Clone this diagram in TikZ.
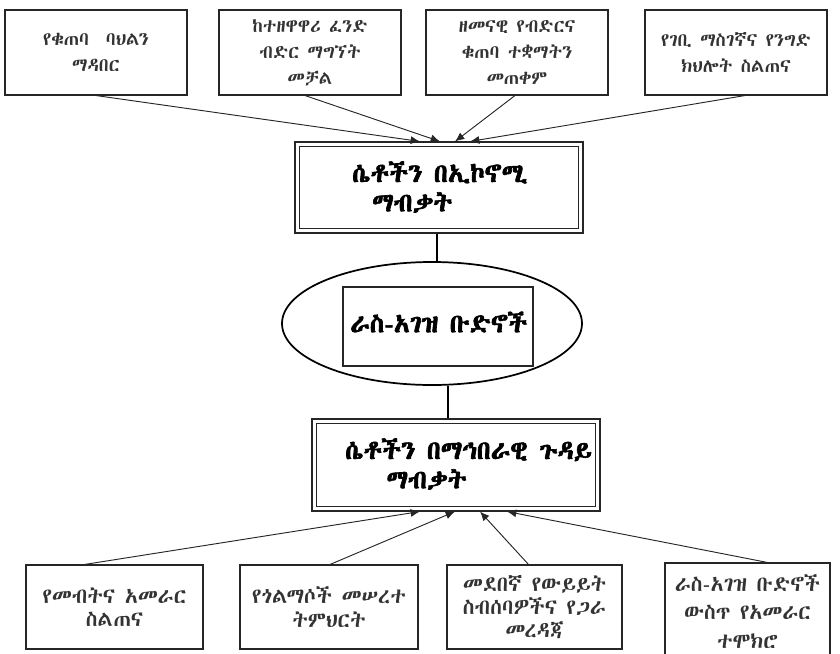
\documentclass[tikz,border=0pt]{standalone}
\usepackage{fontspec}
\usetikzlibrary{shapes.geometric,arrows.meta,calc}
\newfontfamily\eth{Abyssinica SIL}[BoldFont=Abyssinica SIL,BoldFeatures={FakeBold=2.5}]
\tikzset{
  boxline/.style={draw=black!85, line width=0.8pt},
  smallbox/.style={boxline, rectangle, inner sep=0pt, align=center,
     font=\eth\fontsize{14}{19.5}\selectfont, text=black!80},
  lowbox/.style={smallbox, font=\eth\fontsize{16}{17.5}\selectfont},
  bigtext/.style={inner sep=0pt, align=left, anchor=west,
     font=\eth\bfseries\fontsize{19.5}{22}\selectfont},
  conn/.style={draw=black!85, line width=0.7pt, -{Latex[length=7pt,width=6pt]}},
  thicklink/.style={draw=black, line width=1.6pt}
}
\begin{document}
\begin{tikzpicture}[x=0.75pt,y=-0.75pt]
\useasboundingbox (0,0) rectangle (840,654);
\clip (0,0) rectangle (840,654);
% top boxes
\node[smallbox, minimum width=136.5pt, minimum height=63.75pt] (b1) at (96,52.5) {የቁጠባ~ ባህልን\\ማዳበር};
\node[smallbox, minimum width=136.5pt, minimum height=63.75pt] (b2) at (310,52.5) {ከተዘዋዋሪ ፈንድ\\ብድር ማግኘት\\መቻል};
\node[smallbox, minimum width=136.5pt, minimum height=63.75pt] (b3) at (517,52.5) {ዘመናዊ የብድርና\\ቁጠባ ተቋማትን\\መጠቀም};
\node[smallbox, minimum width=136.5pt, minimum height=63.75pt] (b4) at (736,52.5) {የገቢ ማስገኛና የንግድ\\ክህሎት ስልጠና};
% top centre box
\node[boxline, rectangle, inner sep=0pt, minimum width=216pt, minimum height=68.25pt] (T) at (439,187.5) {};
\draw[boxline] ($(T.north west)+(5,5)$) rectangle ($(T.south east)+(-5,-5)$);
\node[bigtext] (Tt) at (352,187) {ሴቶችን በኢኮኖሚ\\\hspace*{15pt}ማብቃት};
% ellipse
\node[draw=black, line width=1.3pt, ellipse, inner sep=0pt, minimum width=225pt, minimum height=92.25pt] (E) at (432,323.5) {};
\node[boxline, rectangle, inner sep=0pt, minimum width=142.5pt, minimum height=59.25pt] (R) at (438,326.5) {};
\node[bigtext] (Rt) at (350,322) {ራስ-አገዝ ቡድኖች};
% bottom centre box
\node[boxline, rectangle, inner sep=0pt, minimum width=216pt, minimum height=69pt] (B) at (456,465) {};
\draw[boxline] ($(B.north west)+(5,5)$) rectangle ($(B.south east)+(-5,-5)$);
\node[bigtext] (Bt) at (345,464) {ሴቶችን በማኅበራዊ ጉዳይ\\\hspace*{31pt}ማብቃት};
% bottom boxes
\node[lowbox, minimum width=132.75pt, minimum height=63pt] (c1) at (114.5,607) {የመብትና አመራር\\ስልጠና};
\node[lowbox, minimum width=133.5pt, minimum height=63pt] (c2) at (329,607) {የጎልማሶች መሠረተ\\ትምህርት};
\node[lowbox, minimum width=131.25pt, minimum height=63pt] (c3) at (534.5,607) {መደበኛ የውይይት\\ስብሰባዎችና የጋራ\\መረዳጃ};
\node[lowbox, font=\eth\fontsize{16}{21.5}\selectfont, minimum width=123.75pt, minimum height=72.75pt] (c4) at (747.5,611.5) {ራስ-አገዝ ቡድኖች\\ውስጥ የአመራር\\ተሞክሮ};
% connectors top
\draw[conn] (b1.south) -- ($(T.north)+(-19,0)$);
\draw[conn] ($(b2.south)+(-5,0)$) -- ($(T.north)+(1,0)$);
\draw[conn] ($(b3.south)+(-2,0)$) -- ($(T.north)+(16,0)$);
\draw[conn] ($(b4.south)+(9,0)$) -- ($(T.north)+(31,0)$);
% vertical links
\coordinate (t1) at ($(T.south)+(-2,0)$);
\coordinate (e1) at (t1 |- E.north);
\draw[thicklink] (t1) -- (e1);
\coordinate (b0) at ($(B.north)+(-8,0)$);
\coordinate (e2) at (b0 |- E.south);
\draw[thicklink] (e2) -- (b0);
% connectors bottom
\draw[conn] ($(c1.north)+(-30,0)$) -- ($(B.south)+(-36,0)$);
\draw[conn] ($(c2.north)+(1,0)$) -- ($(B.south)+(-1,0)$);
\draw[conn] ($(c3.north)+(-6,0)$) -- ($(B.south)+(24,0)$);
\draw[conn] ($(c4.north)+(20,0)$) -- ($(B.south)+(51,0)$);
\end{tikzpicture}
\end{document}
